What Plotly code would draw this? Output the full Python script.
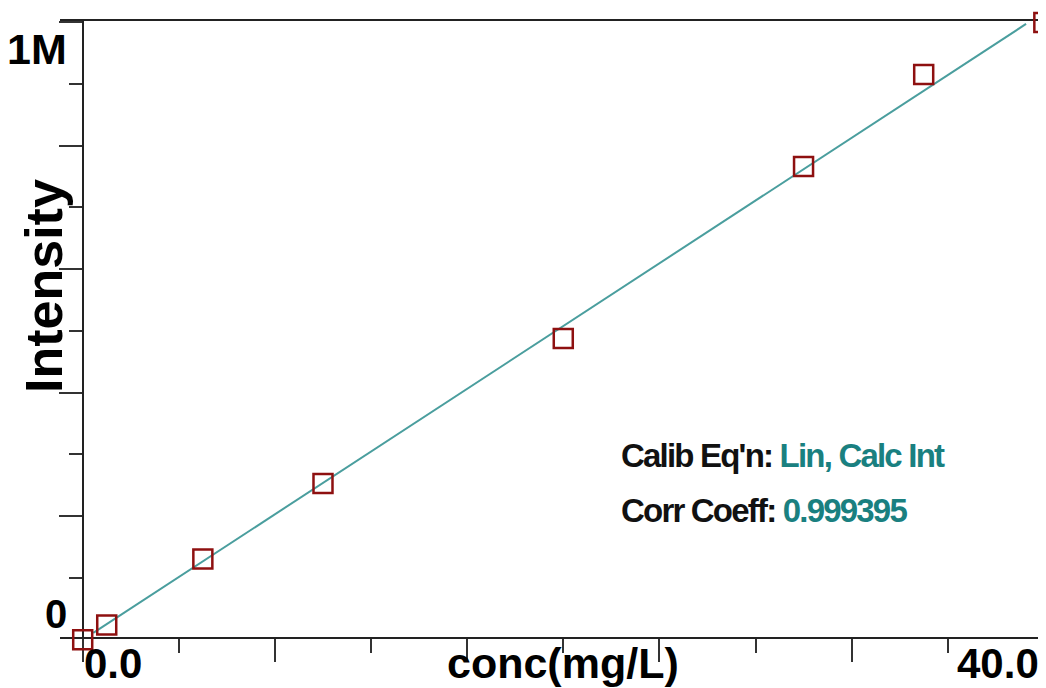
import plotly.graph_objects as go

# ---- data ----
conc = [0, 1, 5, 10, 20, 30, 35, 40]
intensity = [0, 23900, 130800, 253000, 487900, 766400, 915400, 999600]

fit_x = [0.44, 39.26]
fit_slope = 25400
fit_intercept = 0
fit_y = [fit_slope * v + fit_intercept for v in fit_x]

x_range = [-0.945, 40.09]
y_range = [4450, 1002000]

x_tick_labels = ["0.0", "40.0"]
y_tick_labels = ["0", "1M"]
x_title = "conc(mg/L)"
y_title = "Intensity"
eq_label, eq_value = "Calib Eq'n:", "Lin, Calc Int"
cc_label, cc_value = "Corr Coeff:", "0.999395"

# ---- geometry (reference-pixel based; page body adds an 8px offset) ----
OFF = 8
W, H = 1046 - OFF, 688 - OFF
PLOT_L, PLOT_R, PLOT_T, PLOT_B = 60, 1046, 21, 637   # visible frame in page px
PAPER_B = 668                                        # paper extends below frame
ML, MR, MT = PLOT_L - OFF, 1046 - PLOT_R, PLOT_T - OFF
MB = 688 - PAPER_B
PW = PLOT_R - PLOT_L
PH = PAPER_B - PLOT_T


def fx(p):
    return (p - PLOT_L) / PW


def fy(p):
    return (PAPER_B - p) / PH


# overlay axes with identical scale but extending below the frame
px_per_unit = (PLOT_B - PLOT_T) / (y_range[1] - y_range[0])
y2_range = [y_range[1] - (PAPER_B - PLOT_T) / px_per_unit, y_range[1]]

fig = go.Figure()
fig.add_trace(go.Scatter(
    x=fit_x, y=fit_y, mode="lines",
    line=dict(color="#4a9e9e", width=2),
    hoverinfo="skip", showlegend=False,
))
fig.add_trace(go.Scatter(
    x=conc, y=intensity, mode="markers", xaxis="x2", yaxis="y2",
    marker=dict(symbol="square-open", size=19, color="#8e1010",
                line=dict(width=2.5, color="#8e1010")),
    cliponaxis=False, showlegend=False,
))

TICK_C = "#333333"
fig.update_layout(
    xaxis=dict(
        domain=[0, 1], anchor="y",
        range=x_range, showline=True, linecolor="#222222", linewidth=2, mirror=True,
        ticks="outside", tick0=0, dtick=8, ticklen=23, tickwidth=1.5, tickcolor=TICK_C,
        minor=dict(ticks="outside", tick0=0, dtick=4, ticklen=14, tickwidth=1.5,
                   tickcolor=TICK_C, showgrid=False),
        showticklabels=False, showgrid=False, zeroline=False,
    ),
    yaxis=dict(
        domain=[fy(PLOT_B), 1], anchor="free",
        position=(0 - x_range[0]) / (x_range[1] - x_range[0]),
        range=y_range, showline=True, linecolor="#222222", linewidth=1.5,
        ticks="outside", tick0=0, dtick=200000, ticklen=23, tickwidth=1.5, tickcolor=TICK_C,
        minor=dict(ticks="outside", tick0=0, dtick=100000, ticklen=13, tickwidth=1.5,
                   tickcolor=TICK_C, showgrid=False),
        showticklabels=False, showgrid=False, zeroline=False,
    ),
    xaxis2=dict(domain=[0, 1], anchor="y2", range=x_range, visible=False),
    yaxis2=dict(domain=[0, 1], anchor="x2", range=y2_range, visible=False),
)

BOLD = dict(family="Liberation Sans, Arial, sans-serif", color="black", weight="bold")
NARROW = dict(family="Liberation Sans, Arial, sans-serif", color="#111111", weight="bold")
TEAL = "#1a8080"


def narrow_text(label, value):
    return (f"<span style='letter-spacing:-1.8px'>{label} "
            f"<span style='color:{TEAL}'>{value}</span></span>")


ann = [
    dict(text=x_tick_labels[0], x=fx(82), y=fy(663), xanchor="left", yanchor="middle",
         font=dict(size=42, **BOLD)),
    dict(text=x_tick_labels[1], x=fx(1041), y=fy(663), xanchor="right", yanchor="middle",
         font=dict(size=42, **BOLD)),
    dict(text=x_title, x=fx(562.5), y=fy(663), xanchor="center", yanchor="middle",
         font=dict(size=43, **BOLD)),
    dict(text=y_tick_labels[0], x=fx(69), y=fy(614), xanchor="right", yanchor="middle",
         font=dict(size=40, **BOLD)),
    dict(text=y_tick_labels[1], x=fx(69), y=fy(48.5), xanchor="right", yanchor="middle",
         font=dict(size=43, **BOLD)),
    dict(text=y_title, x=fx(44), y=fy(286), xanchor="center", yanchor="middle",
         textangle=-90, font=dict(size=52, **BOLD)),
    dict(text=narrow_text(eq_label, eq_value),
         x=fx(619), y=fy(455), xanchor="left", yanchor="middle",
         font=dict(size=33, **NARROW)),
    dict(text=narrow_text(cc_label, cc_value),
         x=fx(619), y=fy(510), xanchor="left", yanchor="middle",
         font=dict(size=33, **NARROW)),
]
for a in ann:
    a.update(xref="paper", yref="paper", showarrow=False)

fig.update_layout(
    width=W, height=H, autosize=False,
    margin=dict(l=ML, r=MR, t=MT, b=MB, pad=0),
    paper_bgcolor="white", plot_bgcolor="rgba(0,0,0,0)",
    annotations=ann, showlegend=False,
)

fig.write_html("out.html")
